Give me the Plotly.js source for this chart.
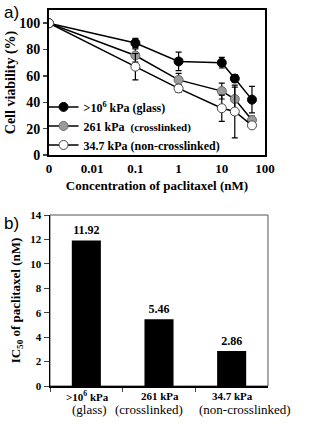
<!DOCTYPE html>
<html><head><meta charset="utf-8">
<script src="https://cdn.plot.ly/plotly-3.0.1.min.js"></script>
<style>html,body{margin:0;padding:0;background:#fff;}#chart{width:311px;height:424px;}</style>
</head><body><div id="chart"></div>
<script>
// Panel a: concentration (nM); 0.001 stands in for the "0" control on the log axis
const concentration = [0.001, 0.1, 1, 10, 20, 50];
const glassViability = [100, 85, 71, 70, 58, 42];
const glassErr = [0, 3.5, 7, 4, 3, 10];
const crossViability = [100, 75.5, 57, 48.5, 42.5, 26.5];
const crossErr = [0, 5, 5, 6, 9, 3];
const nonCrossViability = [100, 67, 50.5, 35.5, 33, 22.5];
const nonCrossErr = [0, 10, 3, 10, 20, 2];
const seriesNames = ['&gt;10<sup>6</sup> kPa (glass)', '261 kPa  <span style="font-size:11px">(crosslinked)</span>', '34.7 kPa (non-crosslinked)'];
const xTickVals = [0.001, 0.01, 0.1, 1, 10, 100];
const xTickText = ['0', '0.01', '0.1', '1', '10', '100'];

// Panel b
const ic50Categories = ['glass', 'crosslinked', 'non-crosslinked'];
const ic50TopLabels = ['&gt;10<sup>6</sup> kPa', '261 kPa', '34.7 kPa'];
const ic50BottomLabels = ['(glass)', '(crosslinked)', '(non-crosslinked)'];
const ic50Values = [11.92, 5.46, 2.86];
const ic50Labels = ['11.92', '5.46', '2.86'];

const serif = 'Liberation Serif';
const bottomShift = [3, -10, 13];

function lineTrace(y, err, name, fill, outline) {
  return {
    x: concentration, y: y, name: name, type: 'scatter', mode: 'lines+markers',
    xaxis: 'x', yaxis: 'y',
    line: {color: '#000', width: 1.5},
    marker: {size: 9, color: fill, line: {color: outline, width: 1}},
    error_y: {type: 'data', array: err, visible: true, color: '#000', thickness: 1.2, width: 3}
  };
}

const data = [
  lineTrace(glassViability, glassErr, seriesNames[0], '#000', '#000'),
  lineTrace(crossViability, crossErr, seriesNames[1], '#9a9a9a', '#6a6a6a'),
  lineTrace(nonCrossViability, nonCrossErr, seriesNames[2], '#fff', '#444'),
  {
    x: ic50Categories, y: ic50Values, type: 'bar', xaxis: 'x2', yaxis: 'y2',
    marker: {color: '#000'}, text: ic50Labels, textposition: 'outside',
    textfont: {family: serif, size: 12, color: '#000', weight: 'bold'},
    cliponaxis: false, showlegend: false
  }
];

const annotations = [
  {text: 'a)', xref: 'paper', yref: 'paper', x: 0.005, y: 0.998, xanchor: 'left', yanchor: 'top',
   showarrow: false, font: {family: 'Liberation Sans', size: 17, color: '#000', weight: 'normal'}},
  {text: 'b)', xref: 'paper', yref: 'paper', x: 0.005, y: 0.5, xanchor: 'left', yanchor: 'top',
   showarrow: false, font: {family: 'Liberation Sans', size: 17, color: '#000', weight: 'normal'}}
];
ic50Categories.forEach((c, i) => {
  annotations.push({text: ic50TopLabels[i], xref: 'x2', yref: 'y2 domain', x: c, y: 0,
    yanchor: 'middle', yshift: -10, xshift: 1, showarrow: false,
    font: {family: serif, size: 11, color: '#000', weight: 'bold'}});
  annotations.push({text: ic50BottomLabels[i], xref: 'x2', yref: 'y2 domain', x: c, y: 0,
    yanchor: 'middle', yshift: -23, xshift: bottomShift[i], showarrow: false,
    font: {family: serif, size: 13, color: '#000', weight: 'normal'}});
});

const layout = {
  width: 311, height: 424,
  margin: {l: 0, r: 0, t: 0, b: 0},
  paper_bgcolor: '#fff', plot_bgcolor: '#fff',
  font: {family: serif, color: '#000', weight: 'bold'},
  showlegend: true,
  legend: {
    x: 0.14, y: 0.782, xanchor: 'left', yanchor: 'top',
    bgcolor: 'rgba(0,0,0,0)', borderwidth: 0,
    font: {family: serif, size: 12, color: '#000', weight: 'bold'},
    tracegroupgap: 0, itemwidth: 30
  },
  xaxis: {
    type: 'log', range: [-3, 2], domain: [0.1576, 0.852], anchor: 'y',
    tickvals: xTickVals, ticktext: xTickText, ticks: '',
    showgrid: false, zeroline: false,
    showline: true, linecolor: '#000', linewidth: 2, mirror: true,
    tickfont: {family: serif, size: 13, weight: 'bold'},
    title: {text: 'Concentration of paclitaxel (nM)', font: {family: serif, size: 13, weight: 'bold'}, standoff: 6}
  },
  yaxis: {
    range: [0, 110], domain: [0.6344, 0.9764], anchor: 'x',
    tickvals: [0, 20, 40, 60, 80, 100], ticks: 'outside', ticklen: 4, tickwidth: 1.5,
    showgrid: false, zeroline: false,
    showline: true, linecolor: '#000', linewidth: 2, mirror: true,
    tickfont: {family: serif, size: 14, weight: 'bold'},
    title: {text: 'Cell viability (%)', font: {family: serif, size: 14, weight: 'bold'}, standoff: 0}
  },
  xaxis2: {
    type: 'category', range: [-0.5, 2.5], autorange: false,
    domain: [0.1608, 0.8617], anchor: 'y2',
    ticks: 'outside', tickson: 'boundaries', ticklen: 4, tickwidth: 1,
    showticklabels: false,
    showgrid: false, zeroline: false,
    showline: true, linecolor: '#000', linewidth: 1.5
  },
  yaxis2: {
    range: [0, 14], autorange: false, domain: [0.0896, 0.4929], anchor: 'x2',
    tickvals: [0, 2, 4, 6, 8, 10, 12, 14], ticks: 'outside', ticklen: 5, tickwidth: 1,
    showgrid: false, zeroline: false,
    showline: true, linecolor: '#000', linewidth: 1.5,
    tickfont: {family: serif, size: 11, weight: 'bold'},
    title: {text: 'IC<sub>50</sub> of paclitaxel (nM)', font: {family: serif, size: 13, weight: 'bold'}, standoff: 6}
  },
  bargap: 0.6,
  shapes: [
    {type: 'rect', xref: 'x2 domain', yref: 'y2 domain', x0: 0, x1: 1, y0: 0, y1: 1,
     line: {color: '#555', width: 1}, layer: 'below'}
  ],
  annotations: annotations
};

Plotly.newPlot('chart', data, layout, {displayModeBar: false, staticPlot: true});
</script>
</body></html>
